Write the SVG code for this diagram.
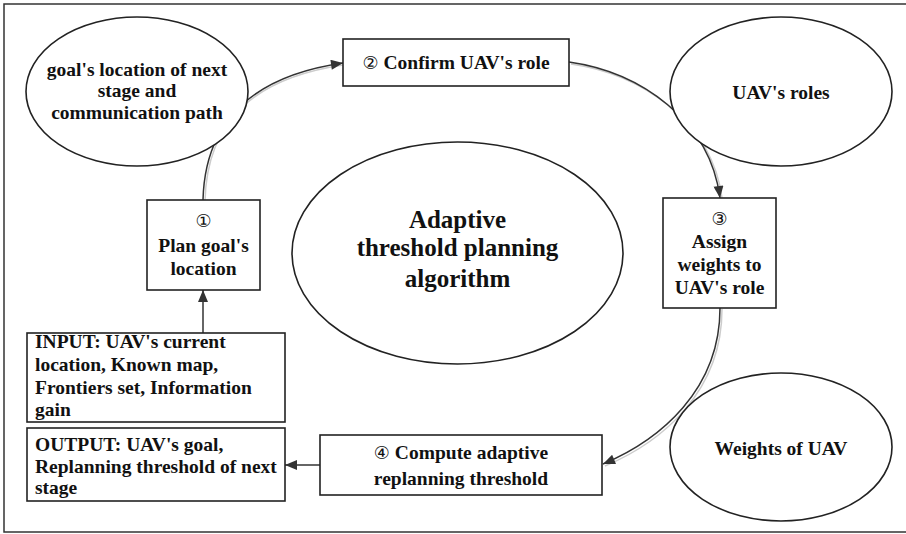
<svg xmlns="http://www.w3.org/2000/svg" width="906" height="534" viewBox="0 0 906 534" font-family="'Liberation Serif', 'Times New Roman', Times, serif">
<defs>
<style>
.n{fill:#fff;stroke:#222;stroke-width:1.6}
.t{font-family:'Liberation Serif', 'Times New Roman', Times, serif;font-weight:700;font-size:19.5px;fill:#111;text-anchor:middle}
.l{text-anchor:start}
.big{font-size:25px}
.c{fill:none;stroke:#333;stroke-width:1.5}
.sh{fill:none;stroke:#ccc;stroke-width:1.5}
.num{font-family:'DejaVu Sans', 'Noto Sans CJK SC', sans-serif;font-weight:400;font-size:18px}
</style>
<marker id="ah" viewBox="0 0 12 10" refX="12" refY="5" markerWidth="13" markerHeight="10" markerUnits="userSpaceOnUse" orient="auto">
<path d="M0,0 L12,5 L0,10 Z" fill="#333"/>
</marker>
</defs>
<rect width="906" height="534" fill="#fff"/>
<path d="M910,4 H4 V532 H910" fill="none" stroke="#333" stroke-width="1.5"/>

<g id="connectors">
<path class="sh" d="M205,201 C207,120 255,78 343,65"/>
<path class="sh" d="M571,64 C642,74 712,122 722,198"/>
<path class="sh" d="M722,309 C722,392 662,442 605,466"/>
<path class="c" d="M203,200 C205,120 253,76 343,63" marker-end="url(#ah)"/>
<path class="c" d="M569,62 C640,72 710,120 720,198" marker-end="url(#ah)"/>
<path class="c" d="M720,308 C720,390 660,440 603,464" marker-end="url(#ah)"/>
<path class="c" d="M320,465 H285" marker-end="url(#ah)"/>
<path class="c" d="M203,333 V290" marker-end="url(#ah)"/>
</g>

<g id="goal-ellipse">
<ellipse class="n" cx="137" cy="91.5" rx="111" ry="74.5"/>
<text class="t" x="137" y="76">goal's location of next</text>
<text class="t" x="137" y="97">stage and</text>
<text class="t" x="137" y="119">communication path</text>
</g>

<g id="step2">
<rect class="n" x="343" y="39" width="226" height="47"/>
<text class="t" x="456" y="69"><tspan class="num">②</tspan> Confirm UAV's role</text>
</g>

<g id="roles-ellipse">
<ellipse class="n" cx="781" cy="91.5" rx="111" ry="74.5"/>
<text class="t" x="781" y="99">UAV's roles</text>
</g>

<g id="center-ellipse">
<ellipse class="n" cx="457.5" cy="253" rx="165.5" ry="111"/>
<text class="t big" x="457.5" y="228">Adaptive</text>
<text class="t big" x="457.5" y="256">threshold planning</text>
<text class="t big" x="457.5" y="287">algorithm</text>
</g>

<g id="step1">
<rect class="n" x="147" y="200" width="113" height="90"/>
<text class="t num" x="203.5" y="227">①</text>
<text class="t" x="203.5" y="252">Plan goal's</text>
<text class="t" x="203.5" y="275">location</text>
</g>

<g id="step3">
<rect class="n" x="663" y="198" width="113" height="110"/>
<text class="t num" x="719.5" y="225">③</text>
<text class="t" x="719.5" y="248">Assign</text>
<text class="t" x="719.5" y="271">weights to</text>
<text class="t" x="719.5" y="294">UAV's role</text>
</g>

<g id="input">
<rect class="n" x="27" y="333" width="258" height="89"/>
<text class="t l" x="35" y="348">INPUT: UAV's current</text>
<text class="t l" x="35" y="371">location, Known map,</text>
<text class="t l" x="35" y="394">Frontiers set, Information</text>
<text class="t l" x="35" y="416">gain</text>
</g>

<g id="output">
<rect class="n" x="27" y="428" width="258" height="73"/>
<text class="t l" x="35" y="451">OUTPUT: UAV's goal,</text>
<text class="t l" x="35" y="473">Replanning threshold of next</text>
<text class="t l" x="35" y="494">stage</text>
</g>

<g id="step4">
<rect class="n" x="320" y="435" width="282" height="60"/>
<text class="t" x="461" y="459"><tspan class="num">④</tspan> Compute adaptive</text>
<text class="t" x="461" y="485">replanning threshold</text>
</g>

<g id="weights-ellipse">
<ellipse class="n" cx="781" cy="447" rx="111" ry="74"/>
<text class="t" x="781" y="455">Weights of UAV</text>
</g>
</svg>
